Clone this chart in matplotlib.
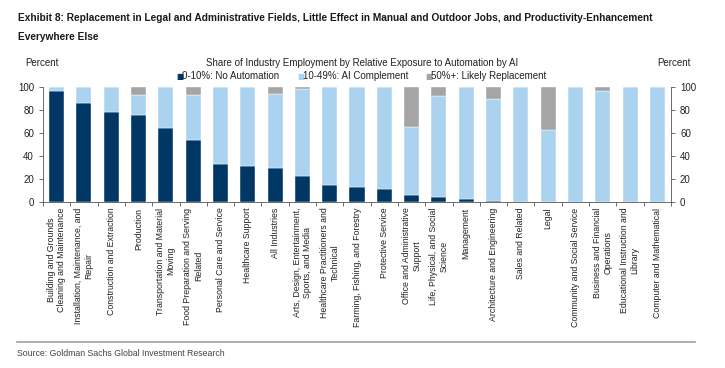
import numpy as np
import matplotlib.pyplot as plt

# categories and shares (percent of industry employment)
categories = [
    'Building and Grounds\nCleaning and Maintenance',
    'Installation, Maintenance, and\nRepair',
    'Construction and Extraction',
    'Production',
    'Transportation and Material\nMoving',
    'Food Preparation and Serving\nRelated',
    'Personal Care and Service',
    'Healthcare Support',
    'All Industries',
    'Arts, Design, Entertainment,\nSports, and Media',
    'Healthcare Practitioners and\nTechnical',
    'Farming, Fishing, and Forestry',
    'Protective Service',
    'Office and Administrative\nSupport',
    'Life, Physical, and Social\nScience',
    'Management',
    'Architecture and Engineering',
    'Sales and Related',
    'Legal',
    'Community and Social Service',
    'Business and Financial\nOperations',
    'Educational Instruction and\nLibrary',
    'Computer and Mathematical',
]
no_auto = [96.2, 85.8, 78.0, 75.9, 64.6, 53.6, 32.8, 31.3, 29.6, 22.6, 14.5, 12.8,
           11.6, 5.8, 4.3, 2.6, 0.9, 0.0, 0.0, 0.0, 0.0, 0.0, 0.0]
replace = [0.0, 0.0, 0.0, 6.7, 0.0, 6.7, 0.0, 0.0, 6.4, 2.0, 0.0, 0.0,
           0.0, 34.8, 8.1, 0.0, 10.7, 0.0, 37.4, 0.0, 3.5, 0.0, 0.0]
complement = [100 - a - b for a, b in zip(no_auto, replace)]

c_dark = '#003764'
c_light = '#abd3f0'
c_gray = '#a5a5a5'
txt = '#222222'

plt.rcParams['font.family'] = ['Liberation Sans', 'DejaVu Sans']

fig = plt.figure(figsize=(7.25, 3.68), dpi=100)
ax = fig.add_axes([43 / 725, 1 - 202 / 368, 628 / 725, 115 / 368])

x = np.arange(len(categories))
w = 0.55
ax.bar(x, no_auto, w, color=c_dark, edgecolor='white', linewidth=0.3)
ax.bar(x, complement, w, bottom=no_auto, color=c_light, edgecolor='white', linewidth=0.3)
ax.bar(x, replace, w, bottom=np.array(no_auto) + np.array(complement),
       color=c_gray, edgecolor='white', linewidth=0.3)

ax.set_xlim(-0.5, len(categories) - 0.5)
ax.set_ylim(0, 100)
ax.set_yticks(range(0, 101, 20))
ax.tick_params(axis='y', labelsize=7, colors='#555555', labelcolor=txt, length=3, width=0.6,
               left=True, right=True, labelright=True)
ax.set_xticks(x)
ax.set_xticklabels(categories, rotation=90, fontsize=6.3, color=txt,
                   ha='center', va='top', multialignment='center')
ax.tick_params(axis='x', length=0, pad=4)
ax.set_xticks(np.arange(-0.5, len(categories), 1), minor=True)
ax.tick_params(axis='x', which='minor', length=3, width=0.6, color='#555555')

ax.spines['top'].set_visible(False)
for s in ['left', 'right', 'bottom']:
    ax.spines[s].set_color('#555555')
    ax.spines[s].set_linewidth(0.6)

# titles and labels
fig.text(18 / 725, 1 - 18 / 368, 'Exhibit 8: Replacement in Legal and Administrative Fields, Little Effect in '
         'Manual and Outdoor Jobs, and Productivity-Enhancement',
         fontsize=7.3, fontweight='bold', color='#1a1a1a', va='center')
fig.text(18 / 725, 1 - 37.5 / 368, 'Everywhere Else',
         fontsize=7.3, fontweight='bold', color='#1a1a1a', va='center')
fig.text(25 / 725, 1 - 63 / 368, 'Percent', fontsize=7, color=txt, va='center')
fig.text(657 / 725, 1 - 63 / 368, 'Percent', fontsize=7, color=txt, va='center')
fig.text(362 / 725, 1 - 63 / 368,
         'Share of Industry Employment by Relative Exposure to Automation by AI',
         fontsize=7, color=txt, va='center', ha='center')

# legend row
leg = [('0-10%: No Automation', c_dark, 176), ('10-49%: AI Complement', c_light, 297),
       ('50%+: Likely Replacement', c_gray, 425)]
for lab, col, px in leg:
    fig.text(px / 725, 1 - 76 / 368, '\u25a0', fontsize=5.5, color=col, va='center', family='DejaVu Sans')
    fig.text((px + 6) / 725, 1 - 76 / 368, lab, fontsize=7, color=txt, va='center')

# bottom rule and source
fig.add_artist(plt.Line2D([17 / 725, 695 / 725], [1 - 342 / 368, 1 - 342 / 368],
                          color='#a0a0a0', linewidth=1.2))
fig.text(17 / 725, 1 - 353 / 368, 'Source: Goldman Sachs Global Investment Research',
         fontsize=6.3, color='#444444', va='center')

fig.savefig('out.png', dpi=100, facecolor='white')
